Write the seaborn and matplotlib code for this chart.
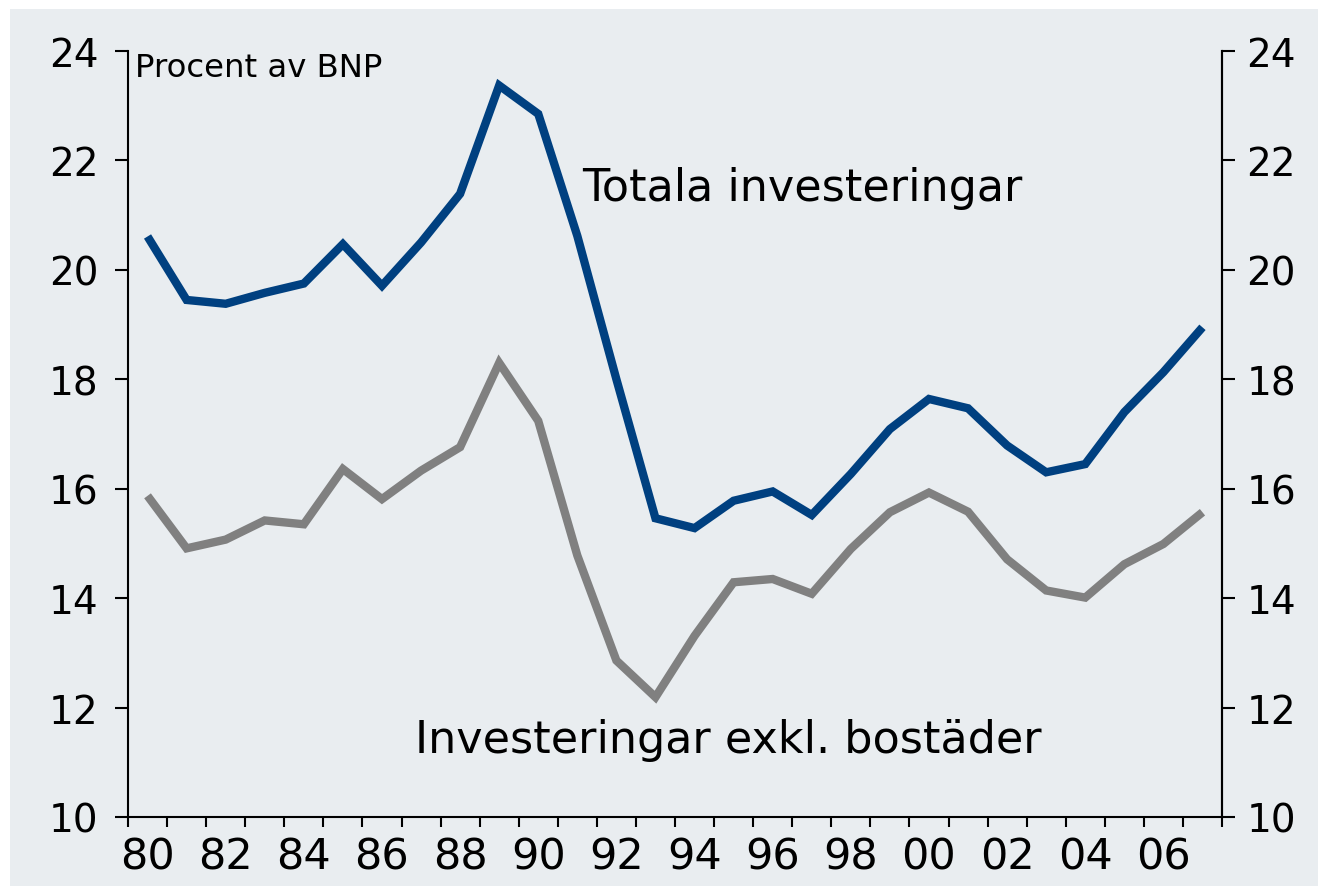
import numpy as np
import pandas as pd
import matplotlib
matplotlib.use("Agg")
import matplotlib.pyplot as plt
import seaborn as sns
from matplotlib.patches import Rectangle

# ---- data ----
years = list(range(1980, 2008))
totala = [20.61, 19.45, 19.38, 19.58, 19.75, 20.47, 19.71, 20.50, 21.39, 23.37,
          22.85, 20.62, 18.00, 15.46, 15.28, 15.78, 15.95, 15.52, 16.27, 17.09,
          17.64, 17.47, 16.79, 16.30, 16.45, 17.40, 18.13, 18.95]
exkl_bostader = [15.87, 14.91, 15.07, 15.42, 15.35, 16.36, 15.81, 16.33, 16.76, 18.30,
                 17.24, 14.78, 12.86, 12.19, 13.31, 14.29, 14.35, 14.08, 14.90, 15.57,
                 15.93, 15.58, 14.71, 14.14, 14.01, 14.62, 14.99, 15.57]
series_names = ["Totala investeringar", "Investeringar exkl. bostäder"]
x_labels = ["80", "82", "84", "86", "88", "90", "92", "94", "96", "98",
            "00", "02", "04", "06"]
y_ticks = [10, 12, 14, 16, 18, 20, 22, 24]
unit_label = "Procent av BNP"

df = pd.DataFrame({
    "year": years * 2,
    "value": totala + exkl_bostader,
    "series": [series_names[0]] * len(years) + [series_names[1]] * len(years),
})

# ---- style ----
sns.set_style("ticks")
plt.rcParams["font.family"] = ["DejaVu Sans"]
plt.rcParams["text.color"] = "black"
plt.rcParams["xtick.color"] = "black"
plt.rcParams["ytick.color"] = "black"
plt.rcParams["xtick.labelcolor"] = "black"
plt.rcParams["ytick.labelcolor"] = "black"
bg = "#E9EDF0"
navy = "#004080"
grey = "#808080"

fig = plt.figure(figsize=(13.19, 8.87), dpi=100)
fig.patch.set_facecolor("white")
fig.patches.append(Rectangle((10 / 1319, 0), 1 - 11 / 1319, 1 - 10 / 887,
                             transform=fig.transFigure, facecolor=bg,
                             edgecolor="none", zorder=-10))

ax = fig.add_axes([128 / 1319, 1 - 818 / 887, (1222 - 128) / 1319, (818 - 52) / 887])
ax.set_facecolor(bg)

sns.lineplot(data=df, x="year", y="value", hue="series",
             palette={series_names[0]: navy, series_names[1]: grey},
             linewidth=6.0, legend=False, ax=ax,
             solid_capstyle="butt", solid_joinstyle="miter")

ax.set_xlim(1979.5, 2007.5)
ax.set_ylim(10, 24)
ax.set_xlabel("")
ax.set_ylabel("")

# x axis: boundary ticks at year edges, labels centred on years
ax.set_xticks(np.arange(1979.5, 2007.6, 1.0))
ax.set_xticklabels([])
ax.set_xticks([int("19" + l) if int(l) >= 50 else int("20" + l) for l in x_labels], minor=True)
ax.set_xticklabels(x_labels, minor=True)
ax.tick_params(axis="x", which="major", direction="out", length=7.5, width=1.5, color="black")
ax.tick_params(axis="x", which="minor", length=0, pad=13, labelsize=31)

ax.set_yticks(y_ticks)
ax.set_yticklabels([str(v) for v in y_ticks])
ax.tick_params(axis="y", direction="out", length=9.5, width=1.5, pad=12, labelsize=28)

for s in ["left", "bottom", "right"]:
    ax.spines[s].set_linewidth(1.5)
    ax.spines[s].set_color("black")
ax.spines["top"].set_visible(False)

ax2 = ax.twinx()
ax2.set_ylim(10, 24)
ax2.set_yticks(y_ticks)
ax2.set_yticklabels([str(v) for v in y_ticks])
ax2.tick_params(axis="y", direction="out", length=9.5, width=1.5, pad=8, labelsize=28)
for s in ["left", "top", "bottom"]:
    ax2.spines[s].set_visible(False)
ax2.spines["right"].set_linewidth(1.5)
ax2.spines["right"].set_color("black")

# ---- annotations ----
ax.text(1979.68, 23.98, unit_label, fontsize=23.3, va="top", ha="left")
ax.text(1991.12, 21.5, series_names[0], fontsize=32, va="center", ha="left")
ax.text(1986.85, 11.42, series_names[1], fontsize=32, va="center", ha="left")

fig.savefig("out.png", dpi=100, facecolor=fig.get_facecolor())
